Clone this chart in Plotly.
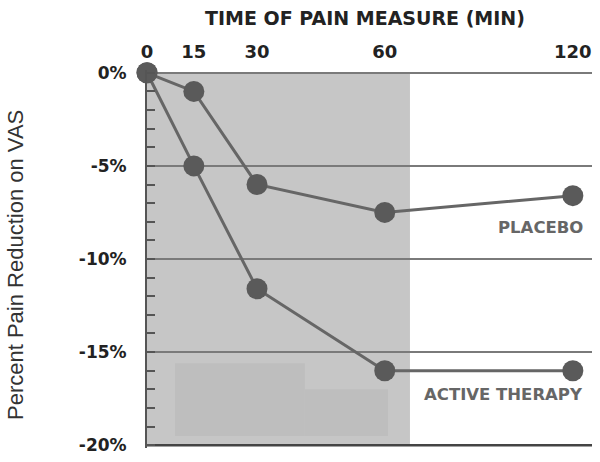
import plotly.graph_objects as go

# ---- data ----
time_labels = ["0", "15", "30", "60", "120"]
time_axis_pos = [0, 13.2, 31.0, 67.0, 120.0]   # drawn (non-linear) axis positions of the time points
placebo = [0.0, -1.0, -6.0, -7.5, -6.6]
active = [0.0, -5.0, -11.6, -16.0, -16.0]
y_ticks = [0, -5, -10, -15, -20]
y_tick_text = ["0%", "-5%", "-10%", "-15%", "-20%"]

line_col = "#666666"
mark_col = "#5a5a5a"

fig = go.Figure()
for name, vals in [("Placebo", placebo), ("Active Therapy", active)]:
    fig.add_trace(go.Scatter(
        x=time_axis_pos, y=vals, mode="lines+markers", name=name,
        line=dict(color=line_col, width=3),
        marker=dict(size=21, color=mark_col),
        cliponaxis=False, showlegend=False,
    ))

shapes = [
    dict(type="rect", xref="x", yref="y", x0=0, x1=74.1, y0=-20, y1=0,
         fillcolor="#c6c6c6", line=dict(width=0), layer="below"),
    dict(type="rect", xref="x", yref="y", x0=7.9, x1=44.5, y0=-19.5, y1=-15.6,
         fillcolor="#bebebe", line=dict(width=0), layer="below"),
    dict(type="rect", xref="x", yref="y", x0=44.5, x1=67.9, y0=-19.5, y1=-17.0,
         fillcolor="#bebebe", line=dict(width=0), layer="below"),
    dict(type="line", xref="x", yref="y", x0=0, x1=125.4, y0=-20, y1=-20,
         line=dict(color="#444444", width=2.5), layer="between"),
]

fig.update_layout(
    width=600, height=462,
    margin=dict(l=147, r=8, t=70, b=14),
    paper_bgcolor="white", plot_bgcolor="white",
    font=dict(family="Liberation Sans, Arial, sans-serif", color="#333333"),
    shapes=shapes,
    xaxis=dict(
        range=[0, 125.4], side="top", showgrid=False, zeroline=False,
        tickvals=time_axis_pos, ticktext=time_labels, ticks="",
        tickfont=dict(family="DejaVu Sans, sans-serif", size=18, color="#222222", weight="bold"),
        ticklabelstandoff=7, showline=False,
    ),
    yaxis=dict(
        range=[-20.15, 0.15], tickvals=y_ticks, ticktext=y_tick_text,
        showgrid=True, gridcolor="#7a7a7a", gridwidth=1.5, zeroline=False,
        showline=True, linecolor="#555555", linewidth=2,
        ticks="inside", ticklen=8, tickcolor="#555555", tickwidth=1.5,
        minor=dict(dtick=1, ticks="inside", ticklen=8, tickcolor="#555555",
                   tickwidth=1.5, showgrid=False),
        tickfont=dict(family="DejaVu Sans, sans-serif", size=17, color="#222222", weight="bold"),
        ticklabelstandoff=15,
    ),
    annotations=[
        dict(text="TIME OF PAIN MEASURE (MIN)", xref="paper", yref="paper",
             x=(365 - 147) / 445, y=1, yshift=52, showarrow=False, xanchor="center", yanchor="middle",
             font=dict(family="DejaVu Sans, sans-serif", size=19, color="#222222", weight="bold")),
        dict(text="Percent Pain Reduction on VAS", xref="paper", yref="paper",
             x=0, xshift=-132, y=0.5, yshift=-6, textangle=-90, showarrow=False,
             xanchor="center", yanchor="middle",
             font=dict(family="Liberation Sans, Arial, sans-serif", size=22, color="#333333")),
        dict(text="PLACEBO", xref="x", yref="y", x=123.4, y=-8.3, showarrow=False,
             xanchor="right", yanchor="middle",
             font=dict(family="DejaVu Sans, sans-serif", size=16.5, color="#666666", weight="bold")),
        dict(text="ACTIVE THERAPY", xref="x", yref="y", x=123.4, y=-17.3, showarrow=False,
             xanchor="right", yanchor="middle",
             font=dict(family="DejaVu Sans, sans-serif", size=16.5, color="#666666", weight="bold")),
    ],
)

fig.write_html("out.html", config={"displayModeBar": False},
               post_script="document.body.style.margin='0';")
